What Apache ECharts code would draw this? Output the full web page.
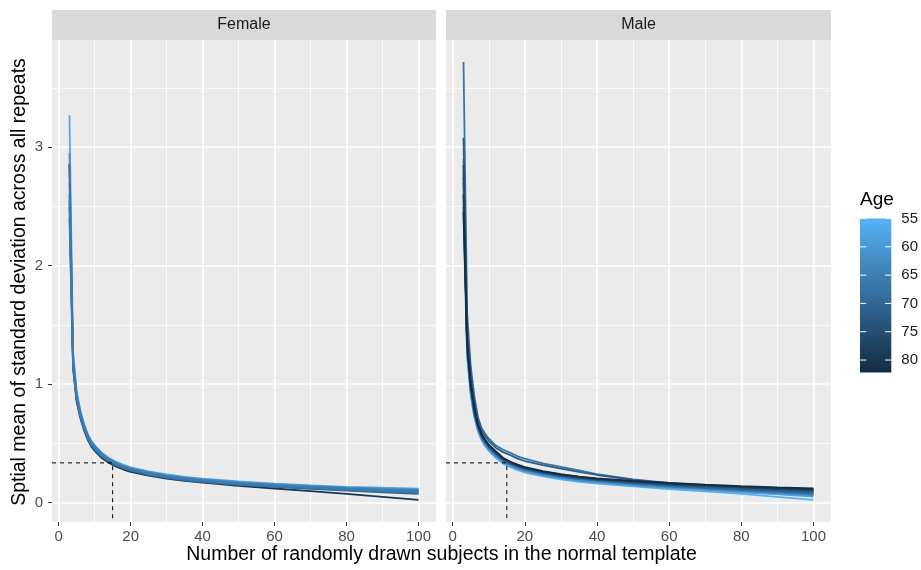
<!DOCTYPE html>
<html><head><meta charset="utf-8">
<script src="https://cdn.jsdelivr.net/npm/echarts@6/dist/echarts.min.js"></script>
<style>html,body{margin:0;padding:0;background:#fff}#c{width:921px;height:570px}</style>
</head><body><div id="c"></div>
<script>
// ---------------- data ----------------
const subjects = [3,4,5,6,7,8,9,10,12,14,16,18,20,25,30,35,40,50,60,70,80,90,100];

const femaleAges = [80,57,61,70,63,68,65,67,66];
const femaleSD = [
  [2.86,1.13,0.85,0.715,0.615,0.535,0.475,0.435,0.375,0.333,0.302,0.278,0.258,0.226,0.202,0.182,0.167,0.14,0.118,0.095,0.072,0.048,0.022],
  [3.27,1.27,0.94,0.78,0.67,0.585,0.525,0.485,0.42,0.375,0.342,0.317,0.297,0.262,0.236,0.216,0.201,0.177,0.159,0.145,0.132,0.124,0.117],
  [2.95,1.24,0.92,0.77,0.66,0.578,0.518,0.478,0.415,0.37,0.337,0.312,0.292,0.257,0.231,0.211,0.196,0.172,0.155,0.14,0.127,0.118,0.11],
  [2.4,1.15,0.865,0.728,0.624,0.544,0.485,0.445,0.385,0.343,0.312,0.288,0.268,0.233,0.207,0.187,0.172,0.148,0.131,0.115,0.1,0.086,0.072],
  [2.7,1.22,0.91,0.76,0.655,0.572,0.512,0.472,0.41,0.366,0.333,0.308,0.288,0.253,0.227,0.207,0.192,0.168,0.151,0.136,0.123,0.113,0.104],
  [2.5,1.17,0.875,0.735,0.63,0.55,0.49,0.45,0.39,0.348,0.317,0.292,0.272,0.237,0.211,0.191,0.176,0.152,0.135,0.12,0.106,0.093,0.08],
  [2.6,1.2,0.9,0.75,0.648,0.566,0.506,0.466,0.405,0.361,0.329,0.304,0.284,0.249,0.223,0.203,0.188,0.164,0.147,0.132,0.118,0.108,0.098],
  [2.86,1.18,0.88,0.74,0.636,0.555,0.495,0.455,0.395,0.352,0.321,0.296,0.276,0.241,0.215,0.195,0.18,0.156,0.139,0.124,0.11,0.098,0.086],
  [2.55,1.19,0.89,0.745,0.642,0.56,0.5,0.46,0.4,0.357,0.325,0.3,0.28,0.245,0.219,0.199,0.184,0.16,0.143,0.128,0.114,0.103,0.092]
];

const maleAges = [55,58,61,64,67,68,70,73,72,76,79,82];
const maleSD = [
  [2.4,1.24,0.9,0.72,0.6,0.525,0.475,0.435,0.375,0.328,0.298,0.273,0.253,0.22,0.195,0.175,0.16,0.135,0.113,0.093,0.072,0.048,0.022],
  [2.6,1.26,0.92,0.73,0.61,0.535,0.485,0.445,0.385,0.337,0.307,0.282,0.262,0.228,0.203,0.183,0.168,0.143,0.123,0.104,0.086,0.068,0.05],
  [2.8,1.28,0.93,0.74,0.62,0.54,0.49,0.45,0.39,0.342,0.312,0.287,0.267,0.233,0.208,0.188,0.173,0.149,0.129,0.111,0.093,0.077,0.06],
  [2.9,1.3,0.95,0.75,0.63,0.55,0.5,0.46,0.4,0.35,0.32,0.295,0.275,0.24,0.215,0.195,0.18,0.155,0.134,0.116,0.099,0.083,0.067],
  [3.72,1.6,1.15,0.9,0.72,0.63,0.58,0.54,0.48,0.445,0.42,0.39,0.37,0.33,0.3,0.27,0.24,0.195,0.165,0.145,0.125,0.11,0.1],
  [2.7,1.31,0.96,0.76,0.635,0.555,0.505,0.465,0.405,0.355,0.324,0.299,0.279,0.244,0.219,0.199,0.184,0.159,0.139,0.122,0.105,0.089,0.074],
  [2.75,1.32,0.97,0.765,0.64,0.56,0.51,0.47,0.41,0.36,0.328,0.303,0.283,0.248,0.223,0.203,0.188,0.163,0.144,0.128,0.111,0.097,0.082],
  [2.5,1.33,0.98,0.77,0.645,0.565,0.515,0.475,0.415,0.364,0.332,0.307,0.287,0.252,0.227,0.207,0.192,0.168,0.149,0.134,0.118,0.105,0.092],
  [3.08,1.5,1.1,0.86,0.7,0.61,0.56,0.52,0.46,0.425,0.4,0.37,0.35,0.315,0.285,0.258,0.232,0.19,0.16,0.14,0.12,0.105,0.095],
  [2.85,1.34,0.99,0.78,0.65,0.57,0.52,0.48,0.42,0.368,0.336,0.311,0.291,0.256,0.231,0.211,0.196,0.173,0.155,0.14,0.125,0.113,0.1],
  [2.6,1.35,1.0,0.79,0.655,0.575,0.525,0.485,0.425,0.372,0.34,0.315,0.295,0.26,0.235,0.215,0.2,0.178,0.16,0.146,0.132,0.12,0.11],
  [2.45,1.36,1.01,0.8,0.66,0.58,0.53,0.49,0.43,0.376,0.344,0.319,0.299,0.264,0.239,0.219,0.204,0.182,0.165,0.151,0.138,0.127,0.118]
];

const panelNames = ['Female','Male'];
const xTicks = [0,20,40,60,80,100];
const xMinorTicks = [10,30,50,70,90];
const yTicks = [0,1,2,3];
const yMinorTicks = [0.5,1.5,2.5,3.5];
const ageTicks = [55,60,65,70,75,80];
const cutoffN = 15;
const cutoffSD = 0.334;

// ---------------- styling / scales ----------------
const FONT = '"Liberation Sans", Arial, sans-serif';
const xMin = -1.85, xMax = 104.85;
const yMin = -0.165, yMax = 3.905;
const ageMin = 55, ageMax = 82.2;
const LIGHT = [0x56,0xB1,0xF7], DARK = [0x13,0x2B,0x43];
function ageColor(a){
  const t = Math.max(0, Math.min(1, (a - ageMin)/(ageMax - ageMin)));
  const c = LIGHT.map((v,i)=>Math.round(v + (DARK[i]-v)*t));
  return 'rgb(' + c.join(',') + ')';
}

const panelLayout = [
  {left:52, top:40, width:384, height:482},
  {left:446, top:40, width:385, height:482}
];

const grids = panelLayout.map(p => ({left:p.left, top:p.top, width:p.width, height:p.height,
  show:true, backgroundColor:'#EBEBEB', borderWidth:0}));
grids.push({left:860, top:218.5, width:32, height:154, show:false});

const xAxes = [0,1].map(g => ({
  type:'value', gridIndex:g, min:xMin, max:xMax, position:'bottom',
  axisLine:{show:false, onZero:false},
  axisTick:{show:true, customValues:xTicks, length:4, lineStyle:{color:'#333333', width:1}},
  axisLabel:{show:true, customValues:xTicks, color:'#4D4D4D', fontSize:15, margin:7, fontFamily:FONT},
  splitLine:{show:false}
}));
xAxes.push({type:'value', gridIndex:2, min:0, max:1, show:false});

const yAxes = [0,1].map(g => ({
  type:'value', gridIndex:g, min:yMin, max:yMax, position:'left',
  axisLine:{show:false, onZero:false},
  axisTick:{show:g===0, customValues:yTicks, length:4, lineStyle:{color:'#333333', width:1}},
  axisLabel:{show:g===0, customValues:yTicks, color:'#4D4D4D', fontSize:15, margin:9, fontFamily:FONT},
  splitLine:{show:false}
}));
yAxes.push({type:'value', gridIndex:2, min:ageMin, max:ageMax, inverse:true, position:'right',
  axisLine:{show:false, onZero:false}, axisTick:{show:false}, splitLine:{show:false},
  axisLabel:{show:true, customValues:ageTicks, color:'#1A1A1A', fontSize:15, margin:10, fontFamily:FONT}});

const series = [];

// grid lines (white, major and minor) as mark lines on an empty helper series, drawn under the data
[0,1].forEach(g => {
  const ml = [];
  xMinorTicks.forEach(v => ml.push({xAxis:v, lineStyle:{width:0.8}}));
  yMinorTicks.forEach(v => ml.push({yAxis:v, lineStyle:{width:0.8}}));
  xTicks.forEach(v => ml.push({xAxis:v, lineStyle:{width:1.6}}));
  yTicks.forEach(v => ml.push({yAxis:v, lineStyle:{width:1.6}}));
  series.push({
    type:'line', xAxisIndex:g, yAxisIndex:g, z:1, silent:true, data:[],
    markLine:{silent:true, z:1, symbol:['none','none'], label:{show:false}, animation:false,
      lineStyle:{color:'#FFFFFF', type:'solid'}, emphasis:{disabled:true}, data:ml}
  });
});

function addLines(g, ages, sds){
  ages.forEach((a, k) => {
    const col = ageColor(a);
    series.push({
      type:'line', xAxisIndex:g, yAxisIndex:g, z:3, silent:true,
      showSymbol:false, symbol:'none', smooth:false,
      data: subjects.map((x,i) => [x, sds[k][i]]),
      lineStyle:{color:col, width:1.8}, itemStyle:{color:col},
      emphasis:{disabled:true}
    });
  });
}
addLines(0, femaleAges, femaleSD);
addLines(1, maleAges, maleSD);

// dashed reference segments
[0,1].forEach(g => {
  series.push({
    type:'line', xAxisIndex:g, yAxisIndex:g, z:4, silent:true,
    showSymbol:false, symbol:'none',
    data:[[xMin, cutoffSD],[cutoffN, cutoffSD],[cutoffN, yMin]],
    lineStyle:{color:'#000000', width:1, type:[4,4]},
    emphasis:{disabled:true}
  });
});

// colourbar
series.push({
  type:'custom', xAxisIndex:2, yAxisIndex:2, silent:true, z:2, clip:false,
  data:[[0, ageMin]],
  renderItem(params, api){
    const cs = params.coordSys;
    const children = [{
      type:'rect', shape:{x:cs.x, y:cs.y, width:cs.width, height:cs.height},
      style:{fill:new echarts.graphic.LinearGradient(0,0,0,1,[
        {offset:0, color:ageColor(ageMin)}, {offset:1, color:ageColor(ageMax)}])}
    }];
    ageTicks.forEach(a => {
      const p = api.coord([0, a]);
      const tl = cs.width/5;
      children.push({type:'line', shape:{x1:cs.x, y1:p[1], x2:cs.x+tl, y2:p[1]}, style:{stroke:'#FFFFFF', lineWidth:1}});
      children.push({type:'line', shape:{x1:cs.x+cs.width-tl, y1:p[1], x2:cs.x+cs.width, y2:p[1]}, style:{stroke:'#FFFFFF', lineWidth:1}});
    });
    return {type:'group', children};
  }
});

const graphic = [];
panelLayout.forEach((p, i) => {
  graphic.push({type:'rect', left:p.left, top:10, shape:{width:p.width, height:30}, style:{fill:'#D9D9D9'}, silent:true});
  graphic.push({type:'text', x:p.left + p.width/2, y:25, style:{text:panelNames[i], fill:'#1A1A1A', font:'16px ' + FONT, textAlign:'center', textVerticalAlign:'middle'}, silent:true});
});
graphic.push({type:'text', x:441.5, y:555, style:{text:'Number of randomly drawn subjects in the normal template', fill:'#000000', font:'19.5px ' + FONT, textAlign:'center', textVerticalAlign:'middle'}, silent:true});
graphic.push({type:'text', x:20, y:282, rotation:Math.PI/2, style:{text:'Sptial mean of standard deviation across all repeats', fill:'#000000', font:'19.5px ' + FONT, textAlign:'center', textVerticalAlign:'middle'}, silent:true});
graphic.push({type:'text', x:860, y:200, style:{text:'Age', fill:'#000000', font:'19px ' + FONT, textAlign:'left', textVerticalAlign:'middle'}, silent:true});

const chart = echarts.init(document.getElementById('c'), null, {renderer:'canvas'});
chart.setOption({
  animation:false,
  backgroundColor:'#FFFFFF',
  grid:grids, xAxis:xAxes, yAxis:yAxes, series, graphic
});
</script></body></html>
